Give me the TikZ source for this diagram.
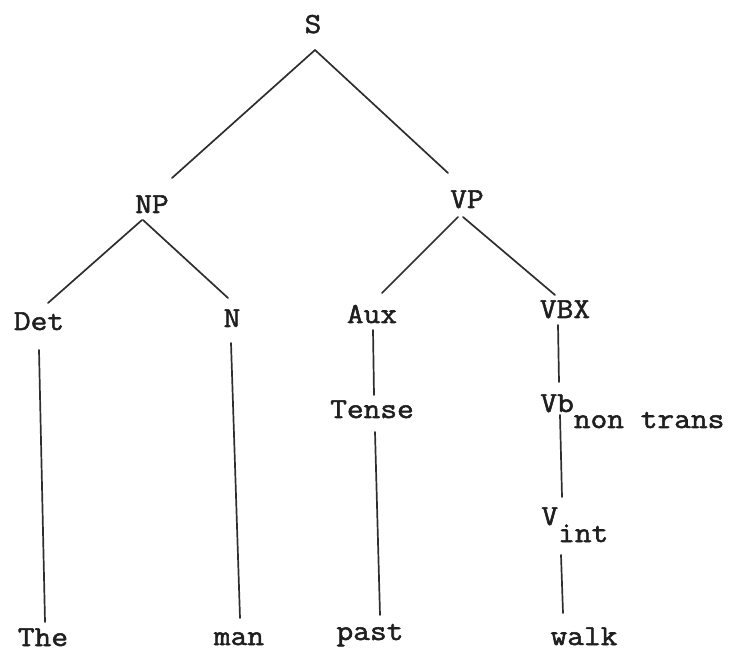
\documentclass[tikz,border=0pt]{standalone}
\usepackage{fontspec}
\setmonofont{Latin Modern Mono}[FakeStretch=1.12, FakeBold=1.8]
\begin{document}
\begin{tikzpicture}[x=0.5pt,y=-0.5pt,
  lbl/.style={inner sep=0pt, font=\fontsize{14.5}{17}\selectfont\ttfamily, text=black!88},
  branch/.style={draw=black!82, line width=0.85pt, line cap=round}]
\useasboundingbox (0,0) rectangle (733,651);

% category labels
\node[lbl,anchor=base] (S)     at (313,33)  {S};
\node[lbl,anchor=base] (NP)    at (152,213) {NP};
\node[lbl,anchor=base] (VP)    at (467,208) {VP};
\node[lbl,anchor=base] (Det)   at (39,330)  {Det};
\node[lbl,anchor=base] (N)     at (232,327) {N};
\node[lbl,anchor=base] (Aux)   at (372,323) {Aux};
\node[lbl,anchor=base] (VBX)   at (565,318) {VBX};
\node[lbl,anchor=base] (Tense) at (372,418) {Tense};
\node[lbl,anchor=base west] (Vb) at (540,412) {Vb\raisebox{-8pt}{non trans}};
\node[lbl,anchor=base west] (V)  at (541,525) {V\raisebox{-8.5pt}{int}};

% terminal words
\node[lbl,anchor=base] (The)  at (43,646)  {The};
\node[lbl,anchor=base] (man)  at (239,645) {man};
\node[lbl,anchor=base] (past) at (370,640) {past};
\node[lbl,anchor=base] (walk) at (584,645) {walk};

% branches
\draw[branch] ([shift={(2,17)}]S.base)    -- ([shift={(20,-35)}]NP.base);
\draw[branch] ([shift={(2,17)}]S.base)    -- ([shift={(-19,-35)}]VP.base);
\draw[branch] ([shift={(-10,7)}]NP.base)  -- ([shift={(9,-27)}]Det.base);
\draw[branch] ([shift={(-9,7)}]NP.base)   -- ([shift={(-4,-29)}]N.base);
\draw[branch] ([shift={(-9,9)}]VP.base)   -- ([shift={(10,-30)}]Aux.base);
\draw[branch] ([shift={(-4,9)}]VP.base)   -- ([shift={(-10,-23)}]VBX.base);
\draw[branch] ([shift={(0,20)}]Det.base)  -- ([shift={(2,-24)}]The.base);
\draw[branch] ([shift={(-1,16)}]N.base)   -- ([shift={(1,-27)}]man.base);
\draw[branch] ([shift={(1,7)}]Aux.base)   -- ([shift={(2,-23)}]Tense.base);
\draw[branch] ([shift={(3,14)}]Tense.base) -- ([shift={(10,-25)}]past.base);
\draw[branch] ([shift={(-7,7)}]VBX.base)  -- ([shift={(19,-30)}]Vb.base west);
\draw[branch] ([shift={(20,3)}]Vb.base west) -- ([shift={(21,-28)}]V.base west);
\draw[branch] ([shift={(20,30)}]V.base west) -- ([shift={(-21,-32)}]walk.base);
\end{tikzpicture}
\end{document}
